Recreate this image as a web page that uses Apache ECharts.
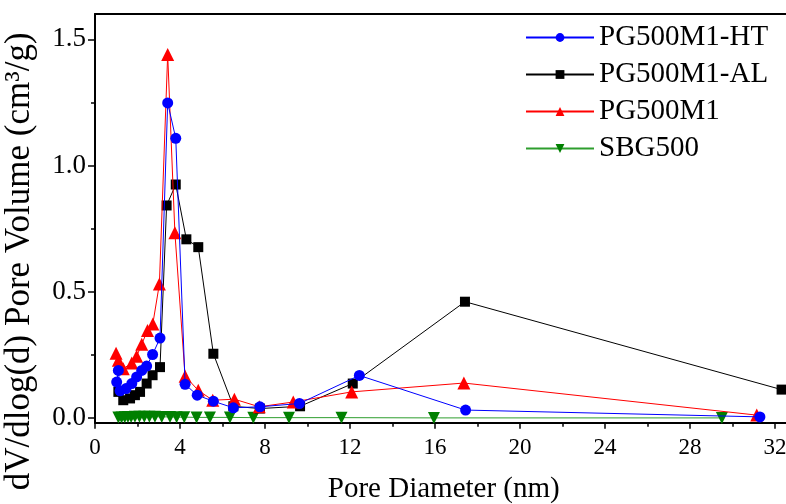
<!DOCTYPE html>
<html>
<head>
<meta charset="utf-8">
<script src="https://cdn.jsdelivr.net/npm/echarts@6/dist/echarts.min.js"></script>
<style>html,body{margin:0;padding:0;background:#fff}#c{width:786px;height:504px}</style>
</head>
<body>
<div id="c"></div>
<script>
const seriesNames = ['PG500M1-HT', 'PG500M1-AL', 'PG500M1', 'SBG500'];

const htX = [1.02, 1.10, 1.18, 1.46, 1.73, 1.96, 2.20, 2.43, 2.71, 3.06, 3.42, 3.80, 4.24, 4.81, 5.57, 6.51, 7.76, 9.62, 12.44, 17.44, 31.29];
const htY = [0.143, 0.189, 0.108, 0.117, 0.137, 0.163, 0.189, 0.206, 0.252, 0.317, 1.248, 1.108, 0.134, 0.091, 0.067, 0.041, 0.045, 0.058, 0.169, 0.032, 0.005];

const alX = [1.10, 1.33, 1.65, 1.88, 2.12, 2.43, 2.71, 3.06, 3.37, 3.80, 4.30, 4.86, 5.57, 6.51, 7.76, 9.65, 12.13, 17.41, 32.31];
const alY = [0.104, 0.071, 0.078, 0.091, 0.104, 0.137, 0.170, 0.202, 0.842, 0.925, 0.708, 0.677, 0.255, 0.047, 0.038, 0.047, 0.137, 0.461, 0.113];

const pgX = [0.99, 1.10, 1.33, 1.73, 1.96, 2.20, 2.47, 2.72, 3.03, 3.42, 3.76, 4.24, 4.86, 5.54, 6.56, 7.73, 9.33, 12.08, 17.36, 31.14];
const pgY = [0.257, 0.229, 0.196, 0.218, 0.245, 0.293, 0.347, 0.373, 0.531, 1.440, 0.734, 0.166, 0.110, 0.071, 0.075, 0.045, 0.064, 0.104, 0.139, 0.012];

const sbX = [1.10, 1.25, 1.40, 1.55, 1.70, 1.88, 2.09, 2.32, 2.56, 2.82, 3.14, 3.53, 3.84, 4.20, 4.78, 5.41, 6.35, 7.45, 9.13, 11.60, 15.95, 29.50];
const sbY = [0.003, 0.003, 0.004, 0.005, 0.005, 0.006, 0.006, 0.006, 0.006, 0.006, 0.005, 0.005, 0.004, 0.004, 0.003, 0.003, 0.003, 0.002, 0.002, 0.002, 0.001, 0.001];

const yMajorTicks = [0, 0.5, 1.0, 1.5];
const yMinorTicks = [0.25, 0.75, 1.25];

function pairs(xs, ys) { return xs.map((x, i) => [x, ys[i]]); }

const FONT = '"Liberation Serif", "Times New Roman", serif';
const chart = echarts.init(document.getElementById('c'), null, {renderer: 'canvas'});

const yBase = {
  type: 'value', min: -0.018, max: 1.6, position: 'left',
  splitLine: {show: false}
};

chart.setOption({
  animation: false,
  backgroundColor: '#fff',
  grid: {left: 95, top: 14, bottom: 81.3, width: 722.5, outerBoundsMode: 'none', containLabel: false, show: false},
  legend: {
    orient: 'vertical', left: 520, top: 18, itemWidth: 68, itemHeight: 11, itemGap: 8,
    textStyle: {fontFamily: FONT, fontSize: 29, color: '#000'},
    data: seriesNames
  },
  xAxis: [{
    type: 'value', min: 0, max: 34, interval: 4, position: 'bottom',
    name: 'Pore Diameter (nm)', nameLocation: 'middle', nameGap: 52,
    nameTextStyle: {fontFamily: FONT, fontSize: 29, color: '#000', padding: [0, 25, 0, 0]},
    axisLine: {onZero: false, lineStyle: {color: '#000', width: 2}},
    axisTick: {length: 6, lineStyle: {color: '#000', width: 1.5}},
    minorTick: {show: true, splitNumber: 2, length: 4, lineStyle: {color: '#000', width: 1.5}},
    axisLabel: {fontFamily: FONT, fontSize: 23, color: '#000', margin: 14,
      formatter: v => (v <= 32 ? String(v) : '')},
    splitLine: {show: false}
  }, {
    type: 'value', min: 0, max: 34, position: 'top',
    axisLine: {show: true, onZero: false, lineStyle: {color: '#000', width: 2}},
    axisTick: {show: false}, axisLabel: {show: false}, splitLine: {show: false}
  }],
  yAxis: [
    Object.assign({}, yBase, {
      name: 'dV/dlog(d) Pore Volume (cm³/g)', nameLocation: 'middle', nameGap: 58,
      nameTextStyle: {fontFamily: FONT, fontSize: 35, color: '#000', padding: [0, 86, 0, 0]},
      axisLine: {show: true, onZero: false, lineStyle: {color: '#000', width: 2}},
      axisTick: {show: true, length: 7, customValues: yMajorTicks, lineStyle: {color: '#000', width: 1.5}},
      axisLabel: {fontFamily: FONT, fontSize: 27, color: '#000', margin: 9, customValues: yMajorTicks,
        formatter: v => v.toFixed(1)}
    }),
    Object.assign({}, yBase, {
      axisLine: {show: false},
      axisTick: {show: true, length: 4, customValues: yMinorTicks, lineStyle: {color: '#000', width: 1.5}},
      axisLabel: {show: false, customValues: yMinorTicks}
    })
  ],
  series: [
    {name: 'SBG500', type: 'line', data: pairs(sbX, sbY), symbol: 'triangle', symbolRotate: 180, symbolSize: 12,
      itemStyle: {color: '#008000'}, lineStyle: {color: '#2e9e2e', width: 1}, z: 2},
    {name: 'PG500M1-AL', type: 'line', data: pairs(alX, alY), symbol: 'rect', symbolSize: 10,
      itemStyle: {color: '#000'}, lineStyle: {color: '#000', width: 1}, z: 3},
    {name: 'PG500M1', type: 'line', data: pairs(pgX, pgY), symbol: 'triangle', symbolSize: 13,
      itemStyle: {color: '#ff0000'}, lineStyle: {color: '#ff0000', width: 1}, z: 4},
    {name: 'PG500M1-HT', type: 'line', data: pairs(htX, htY), symbol: 'circle', symbolSize: 11,
      itemStyle: {color: '#0000ff'}, lineStyle: {color: '#0000ff', width: 1}, z: 5}
  ]
});
</script>
</body>
</html>
